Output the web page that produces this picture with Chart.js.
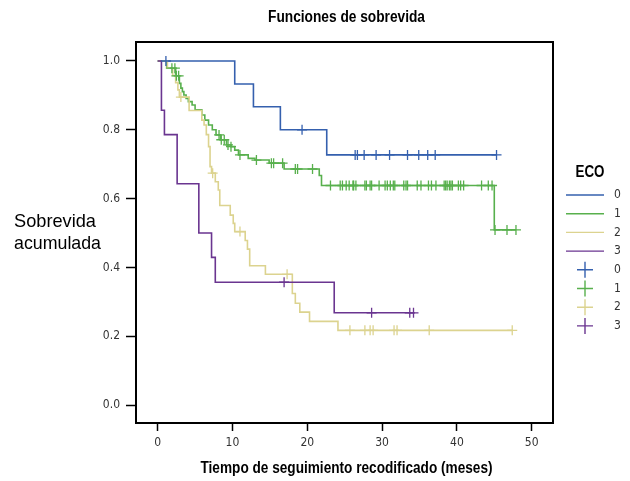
<!DOCTYPE html>
<html><head><meta charset="utf-8">
<script src="https://cdn.jsdelivr.net/npm/chart.js@4.4.1/dist/chart.umd.min.js"></script>
<style>html,body{margin:0;padding:0;background:#fff;}</style>
</head><body>
<canvas id="c" width="630" height="481"></canvas>
<script>
// ---------- data ----------
const groupLabels = ['0', '1', '2', '3'];
const xTickValues = [0, 10, 20, 30, 40, 50];
const yTickValues = [0.0, 0.2, 0.4, 0.6, 0.8, 1.0];

// ECO 0
const eco0Times = [0, 10.3, 12.8, 16.4, 22.6, 45.3];
const eco0Surv  = [1.0, 0.933, 0.867, 0.800, 0.727, 0.727];
const eco0Cens  = [1.1, 19.3, 26.4, 26.7, 27.6, 29.2, 31.0, 33.4, 34.9, 36.1, 37.1, 45.3];

// ECO 1
const eco1Times = [0, 1.2, 2.4, 2.9, 3.1, 3.3, 3.5, 3.8, 4.1, 4.6, 5.0, 5.9, 6.3, 6.8, 7.3, 7.8, 8.4, 9.2, 9.8, 10.3, 10.8, 12.1, 13.0, 14.9, 16.9, 21.6, 21.9, 45.0, 47.9];
const eco1Surv  = [1.0, 0.979, 0.957, 0.935, 0.921, 0.911, 0.901, 0.891, 0.882, 0.872, 0.858, 0.843, 0.828, 0.814, 0.800, 0.785, 0.771, 0.756, 0.751, 0.741, 0.727, 0.717, 0.712, 0.703, 0.686, 0.667, 0.638, 0.509, 0.509];
const eco1Cens  = [1.9, 2.3, 2.5, 2.8, 8.2, 8.5, 8.9, 9.4, 9.8, 11.0, 13.2, 15.2, 15.5, 16.7, 18.4, 18.7, 20.7,
                   23.1, 24.4, 24.7, 25.2, 25.6, 26.1, 26.2, 26.5, 27.7, 27.9, 28.4, 28.6, 29.6, 30.4, 30.7, 31.1, 31.5, 31.7,
                   32.9, 33.2, 33.4, 34.7, 35.2, 36.2, 36.6, 37.2, 38.3, 38.5, 38.7, 39.0, 39.2, 39.4, 40.2, 40.5, 40.9,
                   43.3, 44.2, 44.7, 45.1, 46.7, 47.9];

// ECO 2
const eco2Times = [0, 1.3, 2.0, 2.4, 2.7, 2.9, 4.2, 5.9, 6.2, 6.5, 6.8, 7.0, 7.2, 7.7, 8.1, 8.3, 9.7, 10.1, 10.3, 11.7, 12.0, 12.3, 14.4, 18.0, 18.4, 19.0, 20.3, 24.1, 47.4];
const eco2Surv  = [1.0, 0.979, 0.958, 0.937, 0.916, 0.895, 0.856, 0.828, 0.814, 0.786, 0.751, 0.693, 0.674, 0.649, 0.625, 0.580, 0.552, 0.528, 0.504, 0.478, 0.453, 0.405, 0.380, 0.324, 0.296, 0.270, 0.243, 0.217, 0.217];
const eco2Cens  = [3.1, 7.35, 11.0, 17.3, 25.7, 27.7, 28.4, 28.8, 31.6, 32.0, 36.3, 47.4];

// ECO 3
const eco3Times = [0, 0.5, 0.9, 2.6, 5.5, 7.2, 7.7, 23.6, 34.3];
const eco3Surv  = [1.0, 0.857, 0.786, 0.643, 0.500, 0.429, 0.357, 0.268, 0.268];
const eco3Cens  = [16.9, 28.6, 33.7, 34.2];

// ---------- styles ----------
const colors = ['#3560ae', '#58b04d', '#dcd38f', '#6a3590'];
const TFONT = "'Liberation Sans', Arial, sans-serif";
const TICKFONT = "'DejaVu Sans Condensed', 'Liberation Sans', sans-serif";

const groups = [
  {t: eco0Times, s: eco0Surv, c: eco0Cens},
  {t: eco1Times, s: eco1Surv, c: eco1Cens},
  {t: eco2Times, s: eco2Surv, c: eco2Cens},
  {t: eco3Times, s: eco3Surv, c: eco3Cens}
];

function survAt(times, surv, t) {
  let v = surv[0];
  for (let i = 0; i < times.length; i++) if (times[i] <= t) v = surv[i];
  return v;
}

const datasets = [];
groups.forEach((g, i) => {
  datasets.push({
    type: 'line', label: groupLabels[i],
    data: g.t.map((t, k) => ({x: t, y: g.s[k]})),
    stepped: 'before', borderColor: colors[i], borderWidth: 1.6,
    pointRadius: 0, fill: false, order: 10 - i
  });
});
groups.forEach((g, i) => {
  datasets.push({
    type: 'scatter', label: groupLabels[i],
    data: g.c.map(t => ({x: t, y: survAt(g.t, g.s, t)})),
    showLine: false, pointStyle: 'cross', pointRadius: 5,
    pointBorderColor: colors[i], borderColor: colors[i], pointBorderWidth: 1.3, order: 5 - i
  });
});

// draw text horizontally condensed to a given width (narrow font look)
function narrowText(ctx, text, x, y, font, align, width) {
  ctx.save();
  ctx.font = font;
  const w = ctx.measureText(text).width;
  const sx = width / w;
  ctx.translate(x, y);
  ctx.scale(sx, 1);
  ctx.textAlign = align; ctx.textBaseline = 'middle';
  ctx.fillText(text, 0, 0);
  ctx.restore();
}

const boxPlugin = {
  id: 'boxPlugin',
  afterDraw(chart) {
    const ctx = chart.ctx, a = chart.chartArea;
    const cx = (a.left + a.right) / 2;
    ctx.save();
    ctx.strokeStyle = '#000'; ctx.lineWidth = 2;
    ctx.strokeRect(a.left, a.top, a.right - a.left, a.bottom - a.top);
    ctx.fillStyle = '#000';
    // titles
    narrowText(ctx, 'Funciones de sobrevida', cx + 2, 18, "bold 16px " + TFONT, 'center', 157);
    narrowText(ctx, 'Tiempo de seguimiento recodificado (meses)', cx + 2, 468, "bold 17px " + TFONT, 'center', 292);
    narrowText(ctx, 'Sobrevida', 14, 222, "19px " + TFONT, 'left', 82);
    narrowText(ctx, 'acumulada', 14, 244, "19px " + TFONT, 'left', 87);
    // legend
    const lx = 566, lw = 38, ty = 195, step = 18.7;
    narrowText(ctx, 'ECO', 590, 172, "bold 17px " + TFONT, 'center', 29);
    ctx.font = "12px " + TICKFONT;
    ctx.textAlign = 'left'; ctx.textBaseline = 'middle';
    for (let i = 0; i < 4; i++) {
      const y = ty + i * step;
      ctx.strokeStyle = colors[i]; ctx.lineWidth = 1.4;
      ctx.beginPath(); ctx.moveTo(lx, y); ctx.lineTo(lx + lw, y); ctx.stroke();
      ctx.fillStyle = '#333'; ctx.fillText(groupLabels[i], 614, y);
    }
    for (let i = 0; i < 4; i++) {
      const y = ty + (i + 4) * step, px = 585;
      ctx.strokeStyle = colors[i]; ctx.lineWidth = 1.4;
      ctx.beginPath(); ctx.moveTo(px - 8, y); ctx.lineTo(px + 8, y);
      ctx.moveTo(px, y - 8); ctx.lineTo(px, y + 8); ctx.stroke();
      ctx.fillStyle = '#333'; ctx.fillText(groupLabels[i], 614, y);
    }
    ctx.restore();
  }
};

new Chart(document.getElementById('c'), {
  data: {datasets},
  options: {
    responsive: false, animation: false, devicePixelRatio: 1,
    layout: {padding: {left: 0, right: 77, top: 42, bottom: 0}},
    plugins: {legend: {display: false}, tooltip: {enabled: false}, title: {display: false}},
    scales: {
      x: {type: 'linear', min: -2.9, max: 52.85,
        afterBuildTicks: s => { s.ticks = xTickValues.map(v => ({value: v})); },
        afterFit: s => { s.height = 58; },
        ticks: {font: {family: TICKFONT, size: 12}, color: '#333', padding: 5},
        grid: {drawOnChartArea: false, drawTicks: true, tickLength: 8, tickColor: '#000', tickWidth: 1.5},
        border: {display: false},
        title: {display: false}
      },
      y: {type: 'linear', min: -0.0523, max: 1.0552,
        afterBuildTicks: s => { s.ticks = yTickValues.map(v => ({value: v})); },
        afterFit: s => { s.width = 136; },
        ticks: {font: {family: TICKFONT, size: 12}, color: '#333', padding: 6, callback: v => Number(v).toFixed(1)},
        grid: {drawOnChartArea: false, drawTicks: true, tickLength: 10, tickColor: '#000', tickWidth: 1.5},
        border: {display: false}
      }
    }
  },
  plugins: [boxPlugin]
});
</script>
</body></html>
